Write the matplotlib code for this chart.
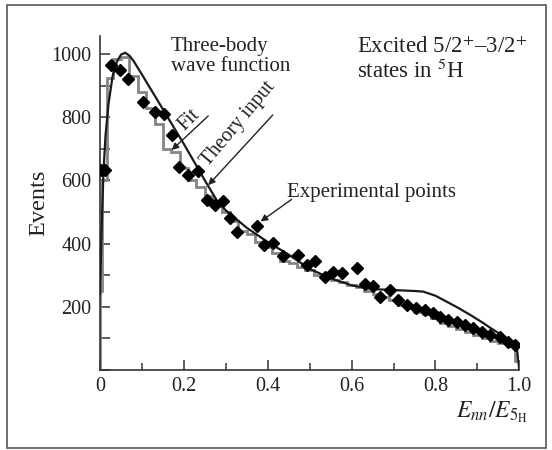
import matplotlib.pyplot as plt
from matplotlib.patches import Rectangle
from matplotlib.ticker import MultipleLocator, FixedLocator, FixedFormatter

plt.rcParams['font.family'] = ['Liberation Serif', 'DejaVu Serif']
plt.rcParams['mathtext.fontset'] = 'stix'

# theory input (smooth curve)
theory_x = [0.0, 0.004, 0.008, 0.013, 0.02, 0.03, 0.04, 0.05, 0.06, 0.07, 0.08,
            0.1, 0.15, 0.2, 0.25, 0.278, 0.3, 0.35, 0.4, 0.45, 0.5, 0.55, 0.6,
            0.65, 0.7, 0.75, 0.771, 0.8, 0.827, 0.855, 0.882, 0.91, 0.93, 0.95,
            0.97, 0.985, 0.994, 1.0]
theory_y = [240, 450, 620, 740, 840, 930, 975, 998, 1004, 995, 978,
            935, 825, 715, 600, 538, 505, 450, 405, 365, 320, 290, 268,
            256, 253, 250, 248, 235, 216, 196, 175, 152, 134, 117,
            98, 85, 72, 0]

# fit histogram
fit_edges = [0.0, 0.004, 0.016, 0.03, 0.05, 0.07, 0.09, 0.11, 0.13, 0.15, 0.17,
             0.19, 0.21, 0.23, 0.25, 0.27, 0.29, 0.31, 0.33, 0.35, 0.37, 0.39,
             0.41, 0.43, 0.45, 0.47, 0.49, 0.51, 0.53, 0.55, 0.57, 0.59, 0.61,
             0.63, 0.65, 0.67, 0.69, 0.71, 0.73, 0.75, 0.77, 0.79, 0.81, 0.83,
             0.85, 0.87, 0.89, 0.91, 0.93, 0.95, 0.97, 0.99, 1.0]
fit_vals = [250, 600, 925, 985, 990, 930, 880, 830, 780, 700,
            690, 640, 600, 580, 550, 520, 500, 470, 440, 430, 405,
            390, 370, 345, 340, 325, 315, 300, 295, 285, 280, 268,
            262, 250, 240, 232, 220, 205, 195, 185, 178, 165, 150,
            140, 130, 120, 110, 100, 92, 85, 75, 30]

# experimental points
exp_x = [0.002, 0.012, 0.026, 0.048, 0.066, 0.103, 0.131, 0.153, 0.172, 0.188,
         0.211, 0.233, 0.254, 0.274, 0.293, 0.310, 0.327, 0.374, 0.39, 0.413,
         0.437, 0.473, 0.493, 0.513, 0.537, 0.556, 0.576, 0.614, 0.632, 0.652,
         0.668, 0.692, 0.711, 0.731, 0.754, 0.775, 0.793, 0.811, 0.831, 0.851,
         0.870, 0.890, 0.910, 0.930, 0.954, 0.974, 0.990]
exp_y = [632, 632, 965, 949, 920, 849, 817, 810, 744, 643,
         617, 631, 538, 522, 536, 480, 438, 456, 396, 401,
         361, 364, 332, 346, 295, 311, 306, 322, 272, 266,
         232, 253, 222, 206, 195, 190, 179, 169, 158, 153,
         142, 132, 121, 111, 105, 90, 79]

fig = plt.figure(figsize=(5.52, 4.5), dpi=100)
ax = fig.add_axes([0.1812, 0.1778, 0.7596, 0.7422])

ax.stairs(fit_vals, fit_edges, color='#858585', lw=2.0, zorder=2)
ax.plot(theory_x, theory_y, color='#1a1a1a', lw=1.6, zorder=3)
ax.plot(exp_x, exp_y, 'D', color='black', ms=5.8, zorder=4)

ax.set_xlim(0, 1.0)
ax.set_ylim(0, 1057)
for s in ['top', 'right']:
    ax.spines[s].set_visible(False)
for s in ['left', 'bottom']:
    ax.spines[s].set_color('#333333')
    ax.spines[s].set_linewidth(1.2)

ax.xaxis.set_major_locator(FixedLocator([0, 0.2, 0.4, 0.6, 0.8, 1.0]))
ax.xaxis.set_major_formatter(FixedFormatter(['0', '0.2', '0.4', '0.6', '0.8', '1.0']))
ax.xaxis.set_minor_locator(MultipleLocator(0.1))
ax.yaxis.set_major_locator(FixedLocator([200, 400, 600, 800, 1000]))
ax.yaxis.set_minor_locator(MultipleLocator(100))
ax.tick_params(which='both', direction='in', color='#333333', width=1.1,
               labelsize=14.5, labelcolor='#222222')
ax.tick_params(which='major', length=7, pad=6)
ax.tick_params(axis='x', which='major', pad=5)
ax.tick_params(axis='y', which='minor', length=7)
ax.tick_params(axis='x', which='minor', length=5)

ax.set_ylabel('Events', fontsize=17.5, color='#222222', labelpad=2)
ax.text(1.02, -0.088, r'$E_{nn}/E_{5_{\mathrm{H}}}$', transform=ax.transAxes,
        fontsize=17, ha='right', va='top', color='#222222')

ax.text(0.169, 1055, 'Three-body\nwave function', fontsize=15, ha='left',
        va='top', color='#222222', linespacing=1.1)
ax.text(0.613, 1053, 'Excited 5/2$^{+}$\u20133/2$^{+}$\nstates in $^{5}$H',
        fontsize=16.5, ha='left', va='top', color='#222222', linespacing=1.05)

arrow = dict(arrowstyle='-|>', color='#222222', lw=1.0, mutation_scale=10,
             shrinkA=0, shrinkB=0)
ax.annotate('', xy=(0.171, 696), xytext=(0.258, 804), arrowprops=arrow)
ax.text(0.212, 790, 'Fit', fontsize=14.5, rotation=45, ha='center',
        va='center', color='#222222')
ax.annotate('', xy=(0.258, 585), xytext=(0.412, 807), arrowprops=arrow)
ax.text(0.33, 778, 'Theory input', fontsize=14.5, rotation=50, ha='center',
        va='center', color='#222222')
ax.annotate('', xy=(0.383, 470), xytext=(0.457, 540), arrowprops=arrow)
ax.text(0.446, 562, 'Experimental points', fontsize=15, ha='left',
        va='center', color='#222222')

# outer frame around the whole panel
fig.patches.append(Rectangle((7 / 552, 2 / 450), 539 / 552, 443 / 450,
                             transform=fig.transFigure, fill=False,
                             edgecolor='#555555', lw=1.2))

fig.savefig('out.png', dpi=100)
